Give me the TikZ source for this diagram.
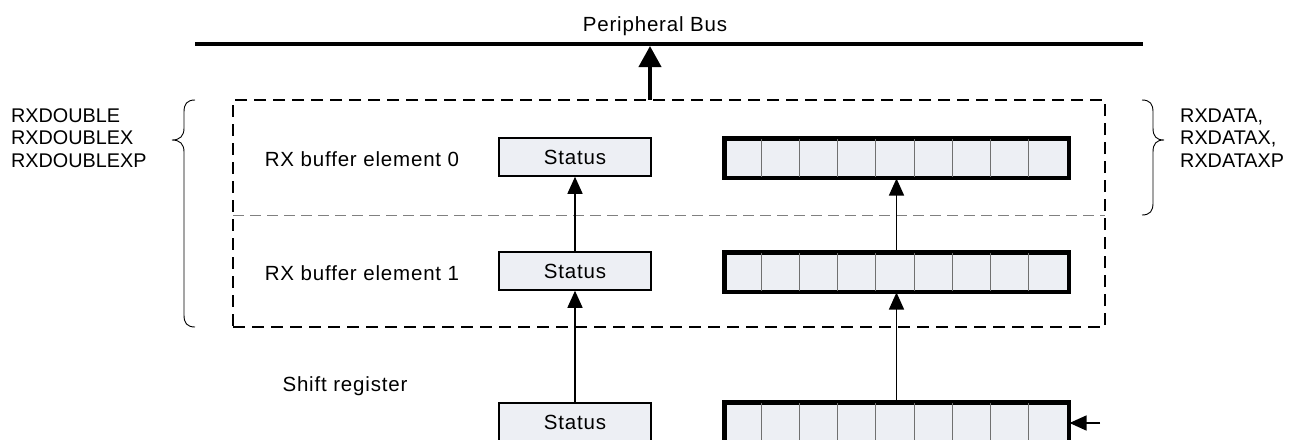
\documentclass[tikz,border=0pt]{standalone}
\usepackage{fontspec}
\setmainfont[LetterSpace=4]{Liberation Sans}
\newfontfamily\capsfont{Liberation Sans}
\usetikzlibrary{arrows.meta,calc}
\definecolor{boxfill}{HTML}{EDEFF4}
\definecolor{cellgray}{HTML}{707070}
\tikzset{
  lbl/.style={font=\fontsize{20.5}{22.5}\selectfont, inner sep=0pt},
  capslbl/.style={font=\capsfont\fontsize{19.8}{22.5}\selectfont, inner sep=0pt, anchor=west, align=left},
  statusbox/.style={draw=black, line width=1.5pt, fill=boxfill, minimum width=152pt, minimum height=38pt, inner sep=0pt, font=\fontsize{20.5}{22.5}\selectfont},
  databox/.style={draw=black, line width=3pt, fill=boxfill, minimum width=343pt, minimum height=38pt, inner sep=0pt},
  cellline/.style={draw=cellgray, line width=1pt},
  arr/.style={line width=1.4pt, -{Triangle[length=17pt,width=15pt]}},
  outerdash/.style={draw=black, line width=1.5pt, dash pattern=on 12pt off 7pt},
  innerdash/.style={draw=gray, line width=1pt, dash pattern=on 11pt off 6pt},
  bracepath/.style={draw=black, line width=0.9pt},
}
\begin{document}
\begin{tikzpicture}[x=1pt,y=-1pt]
\useasboundingbox (0,0) rectangle (1295,439);
% outer dashed frame
\node[outerdash, minimum width=872pt, minimum height=227pt, inner sep=0pt] (outer) at (669,213.5) {};
\coordinate (midL) at (233,215);
\coordinate (midR) at (1105,215);
\draw[innerdash] (midL) -- (midR);
% bus
\coordinate (busL) at (195,44);
\coordinate (busR) at (1143,44);
\draw[line width=4.5pt] (busL) -- (busR);
\node[lbl] (buslbl) at (655,26) {Peripheral Bus};
\coordinate (busfrom) at (650,100);
\coordinate (busto) at (650,46);
\draw[line width=4pt, -{Triangle[length=21pt,width=22pt]}] (busfrom) -- (busto);
% row labels
\node[lbl] (l0) at (362,159) {RX buffer element 0};
\node[lbl] (l1) at (362,273) {RX buffer element 1};
\node[lbl] (l2) at (345,386) {Shift register};
% status boxes
\node[statusbox] (s0) at (575,157) {Status};
\node[statusbox] (s1) at (575,271) {Status};
\node[statusbox] (s2) at (575,422) {Status};
% data boxes
\foreach \n/\y in {d0/158, d1/272, d2/422}{
  \node[databox] (\n) at (896.5,\y) {};
  \foreach \i in {1,...,8}{
    \draw[cellline] ($(\n.north west)+(\i*38.11,1.5)$) -- ($(\n.south west)+(\i*38.11,-1.5)$);
  }
  \draw[line width=3pt] (\n.north west) rectangle (\n.south east);
}
% arrows
\draw[arr] (s1.north) -- (s0.south);
\draw[arr] (s2.north) -- (s1.south);
\draw[arr] (d1.north) -- (d0.south);
\draw[arr] (d2.north) -- (d1.south);
\coordinate (inR) at (1100,423);
\draw[arr] (inR) -- (d2.east |- inR);
% left brace
\draw[bracepath] (195,100) .. controls (187,100) and (184,104) .. (184,112) -- (184,128)
  .. controls (184,136) and (180,140) .. (172,140)
  .. controls (180,140) and (184,144) .. (184,152) -- (184,315)
  .. controls (184,323) and (187,327) .. (195,327);
% right brace
\draw[bracepath] (1142,100) .. controls (1150,100) and (1153,104) .. (1153,112) -- (1153,128)
  .. controls (1153,136) and (1156,140) .. (1164,140)
  .. controls (1156,140) and (1153,144) .. (1153,152) -- (1153,203)
  .. controls (1153,211) and (1150,215) .. (1142,215);
% brace labels
\node[capslbl] (lt) at (11,138) {RXDOUBLE\\RXDOUBLEX\\RXDOUBLEXP};
\node[capslbl] (rt) at (1180,138) {RXDATA,\\RXDATAX,\\RXDATAXP};
\end{tikzpicture}
\end{document}
